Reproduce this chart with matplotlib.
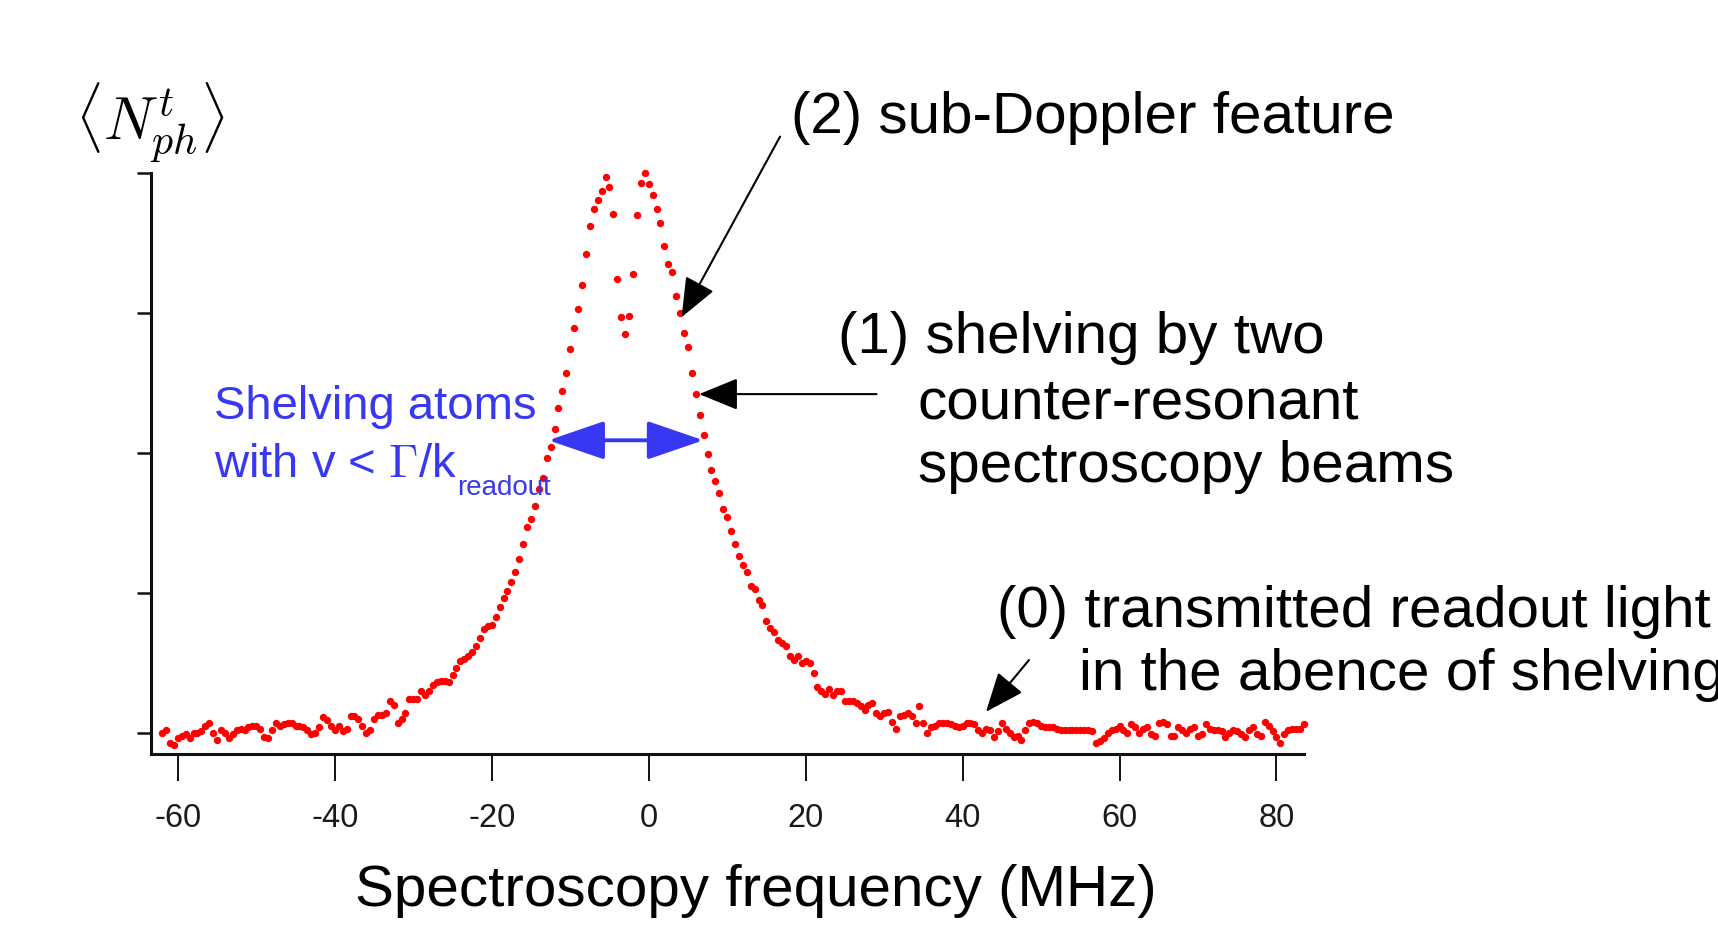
import matplotlib
matplotlib.use("Agg")
import matplotlib.pyplot as plt
import numpy as np

plt.rcParams['font.family'] = ['Liberation Sans', 'DejaVu Sans']
plt.rcParams['mathtext.fontset'] = 'cm'

# frequency sweep (MHz), one point every 0.5 MHz
freq = np.arange(-62, 84, 0.5)

# transmitted photon number (arb. units, tick spacing = 1)
signal = [
    0.00, 0.02, -0.07, -0.09, -0.04, -0.02, -0.01, -0.04, 0.00, 0.00,
    0.01, 0.05, 0.07, 0.00, -0.05, 0.02, 0.00, -0.04, -0.01, 0.02,
    0.03, 0.02, 0.04, 0.05, 0.05, 0.03, -0.03, -0.04, 0.02, 0.07,
    0.05, 0.06, 0.07, 0.07, 0.05, 0.05, 0.04, 0.02, -0.01, 0.00,
    0.04, 0.11, 0.09, 0.05, 0.02, 0.05, 0.01, 0.03, 0.12, 0.12,
    0.10, 0.05, 0.00, 0.02, 0.10, 0.13, 0.13, 0.14, 0.23, 0.20,
    0.07, 0.10, 0.14, 0.24, 0.24, 0.24, 0.30, 0.27, 0.30, 0.34,
    0.36, 0.37, 0.37, 0.36, 0.41, 0.46, 0.51, 0.53, 0.55, 0.58,
    0.62, 0.68, 0.74, 0.76, 0.77, 0.83, 0.90, 0.96, 1.01, 1.08,
    1.15, 1.24, 1.35, 1.47, 1.53, 1.62, 1.74, 1.82, 1.96, 2.04,
    2.17, 2.32, 2.44, 2.57, 2.74, 2.89, 3.03, 3.20, 3.42, 3.62,
    3.74, 3.81, 3.87, 3.97, 3.90, 3.71, 3.24, 2.97, 2.85, 2.98,
    3.28, 3.70, 3.93, 4.00, 3.92, 3.84, 3.74, 3.64, 3.48, 3.35,
    3.29, 3.12, 3.00, 2.86, 2.76, 2.57, 2.42, 2.27, 2.13, 1.99,
    1.88, 1.80, 1.71, 1.60, 1.54, 1.44, 1.35, 1.26, 1.20, 1.15,
    1.05, 1.03, 0.95, 0.91, 0.80, 0.75, 0.72, 0.66, 0.64, 0.62,
    0.55, 0.52, 0.55, 0.50, 0.51, 0.50, 0.43, 0.33, 0.30, 0.28,
    0.31, 0.27, 0.30, 0.30, 0.23, 0.23, 0.23, 0.21, 0.19, 0.16,
    0.20, 0.21, 0.14, 0.12, 0.14, 0.15, 0.08, 0.03, 0.12, 0.13,
    0.14, 0.12, 0.07, 0.19, 0.07, 0.00, 0.04, 0.05, 0.07, 0.07,
    0.07, 0.06, 0.05, 0.04, 0.05, 0.07, 0.07, 0.06, 0.02, 0.00,
    0.03, 0.02, -0.03, 0.01, 0.07, 0.03, 0.00, -0.03, -0.02, -0.05,
    0.02, 0.07, 0.08, 0.07, 0.05, 0.04, 0.04, 0.04, 0.03, 0.02,
    0.02, 0.02, 0.02, 0.02, 0.02, 0.02, 0.02, 0.01, -0.07, -0.06,
    -0.04, 0.00, 0.02, 0.03, 0.05, 0.02, 0.00, 0.06, 0.04, 0.00,
    0.03, 0.04, -0.01, -0.02, 0.07, 0.08, 0.06, -0.02, -0.02, 0.04,
    0.02, 0.00, 0.03, 0.04, -0.02, -0.01, 0.06, 0.03, 0.02, 0.02,
    0.01, -0.03, 0.00, 0.02, 0.01, -0.01, -0.03, 0.02, 0.04, -0.01,
    -0.02, 0.08, 0.05, 0.01, -0.03, -0.07, -0.01, 0.02, 0.03, 0.03,
    0.03, 0.06,
]

x_ticks = [-60, -40, -20, 0, 20, 40, 60, 80]
y_ticks = [0, 1, 2, 3, 4]

fig = plt.figure(figsize=(17.18, 9.27), dpi=100)
ax = fig.add_axes([0.088, 0.187, 0.671, 0.6264])

ax.plot(freq, signal, 'o', color='#ff0000', ms=5.3, mew=0, clip_on=False)

ax.set_xlim(-63.4, 83.5)
ax.set_ylim(-0.149, 4.0)
ax.set_xticks(x_ticks)
ax.set_xticklabels([str(t) for t in x_ticks])
ax.set_yticks(y_ticks)
ax.set_yticklabels([])
for s in ['top', 'right']:
    ax.spines[s].set_visible(False)
for s in ['left', 'bottom']:
    ax.spines[s].set_linewidth(2.2)
    ax.spines[s].set_color('#111111')
ax.tick_params(axis='x', direction='out', length=19.5, width=1.4, pad=16,
               labelsize=23.5, labelcolor='#1a1a1a', color='#111111')
ax.tick_params(axis='y', direction='out', length=10, width=1.8, color='#111111')

# labels
fig.text(0.44, 0.023, 'Spectroscopy frequency (MHz)', fontsize=42, ha='center', va='baseline')
fig.text(0.0434, 0.849, r'$\langle N_{ph}^{t}\rangle$', fontsize=43, ha='left', va='baseline')

# annotations
fig.text(0.4604, 0.857, '(2) sub-Doppler feature', fontsize=42, va='baseline')
fig.text(0.4878, 0.6194, '(1) shelving by two', fontsize=42, va='baseline')
fig.text(0.5343, 0.5485, 'counter-resonant', fontsize=42, va='baseline')
fig.text(0.5343, 0.480, 'spectroscopy beams', fontsize=42, va='baseline')
fig.text(0.5803, 0.324, '(0) transmitted readout light', fontsize=42, va='baseline')
fig.text(0.628, 0.2556, 'in the abence of shelving', fontsize=42, va='baseline')

blue = '#3838f2'
fig.text(0.1244, 0.5485, 'Shelving atoms', fontsize=34, color=blue, va='baseline')
fig.text(0.1244, 0.4859, r'with v < $\Gamma$/k', fontsize=34, color=blue, va='baseline')
fig.text(0.266, 0.466, 'readout', fontsize=20, color=blue, va='baseline')

black_arrow = dict(arrowstyle='-|>,head_length=2.45,head_width=1.0', mutation_scale=10,
                   color='black', lw=1.5, shrinkA=0, shrinkB=0)
ax.annotate('', xy=(4.19, 2.97), xytext=(16.74, 4.26), arrowprops=black_arrow,
            annotation_clip=False)
ax.annotate('', xy=(6.42, 2.42), xytext=(29.04, 2.42), arrowprops=black_arrow,
            annotation_clip=False)
ax.annotate('', xy=(42.98, 0.15), xytext=(48.46, 0.52), arrowprops=black_arrow,
            annotation_clip=False)

ax.annotate('', xy=(6.97, 2.09), xytext=(-12.78, 2.09),
            arrowprops=dict(arrowstyle='<|-|>,head_length=3.5,head_width=1.2',
                            mutation_scale=10, color=blue, lw=2.8,
                            shrinkA=0, shrinkB=0),
            annotation_clip=False)

fig.savefig('out.png', dpi=100)
